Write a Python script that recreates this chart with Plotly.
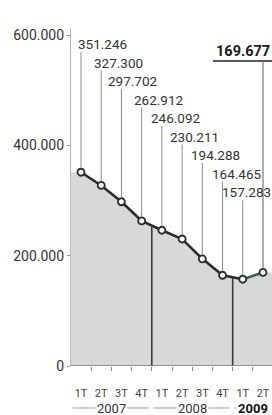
import plotly.graph_objects as go

# ---------------- data ----------------
quarters = ["1T", "2T", "3T", "4T", "1T", "2T", "3T", "4T", "1T", "2T"]
years = ["2007", "2008", "2009"]
year_quarters = [4, 4, 2]
values = [351246, 327300, 297702, 262912, 246092, 230211, 194288, 164465, 157283, 169677]
y_ticks = [0, 200000, 400000, 600000]
y_ticktext = ["0", "200.000", "400.000", "600.000"]

# ---------------- layout constants ----------------
W, H = 272, 415
L, R, T, B = 71, 0, 28, 49
X0, X1 = -0.495, 9.445
Y_TOP = 612700
FONT = "Roboto"
TXT = "#333333"
LINE = "#2b2b2b"
FILL = "#d8d8d8"

idx = list(range(len(values)))
plot_h = H - B - T
px_per_x = (W - L - R) / (X1 - X0)


def py_to_y(py):
    return (H - B - py) / plot_h * Y_TOP


def px_to_x(px):
    return (px - L) / px_per_x + X0


def fmt(v):
    return f"{v:,}".replace(",", ".")


fig = go.Figure()

# area under line (extended to plot edges)
fig.add_trace(go.Scatter(
    x=[X0] + idx + [X1], y=[values[0]] + values + [values[-1]],
    mode="lines", line=dict(width=0), fill="tozeroy", fillcolor=FILL,
    hoverinfo="skip", showlegend=False))

# main line
fig.add_trace(go.Scatter(
    x=idx[:-1], y=values[:-1], mode="lines",
    line=dict(color=LINE, width=2.6), showlegend=False))
fig.add_trace(go.Scatter(
    x=idx[-2:], y=values[-2:], mode="lines",
    line=dict(color="#3f6352", width=2.6), showlegend=False))
fig.add_trace(go.Scatter(
    x=idx, y=values, mode="markers",
    marker=dict(size=7, color="white", line=dict(color=LINE, width=1.8)),
    showlegend=False))

shapes = []
annotations = []

# year separators inside the area
start = 0
bounds = []
for n in year_quarters:
    bounds.append((start - 0.5, start + n - 0.5))
    start += n
for (a, b) in bounds[:-1]:
    i0 = int(b - 0.5)
    yv = (values[i0] + values[i0 + 1]) / 2
    shapes.append(dict(type="line", xref="x", yref="y", x0=b, x1=b, y0=0, y1=yv,
                       line=dict(color="#3a3a3a", width=1.6), layer="above"))

# value labels with leader lines
label_dx = [-5, -9, -15, -10, -13, -14, -13, -13, -23]
marker_gap = 4 * Y_TOP / plot_h
for k, v in enumerate(values[:-1]):
    py_c = 44 + 18.5 * k
    annotations.append(dict(
        x=k, y=py_to_y(py_c), xref="x", yref="y", text=fmt(v), showarrow=False,
        xanchor="left", yanchor="middle", xshift=label_dx[k],
        font=dict(family=FONT, size=13.5, color=TXT)))
    shapes.append(dict(type="line", xref="x", yref="y", x0=k, x1=k,
                       y0=v + marker_gap, y1=py_to_y(py_c + 8),
                       line=dict(color="#8a8a8a", width=1), layer="above"))

# highlighted last value
k = len(values) - 1
annotations.append(dict(
    x=k, y=py_to_y(51), xref="x", yref="y", text="<b>" + fmt(values[k]) + "</b>",
    showarrow=False, xanchor="left", yanchor="middle", xshift=-49,
    font=dict(family=FONT, size=14.5, color="#1a1a1a")))
shapes.append(dict(type="line", xref="x", yref="y", x0=px_to_x(213), x1=X1,
                   y0=py_to_y(61), y1=py_to_y(61),
                   line=dict(color="#222222", width=1.5), layer="above"))
shapes.append(dict(type="line", xref="x", yref="y", x0=k, x1=k,
                   y0=values[k] + marker_gap, y1=py_to_y(61),
                   line=dict(color="#777777", width=1.2), layer="above"))

# year labels with bracket lines
y_year = (H - B - 408) / plot_h
for (a, b), yr in zip(bounds, years):
    a2 = max(a, X0) + 0.08
    b2 = min(b, X1) - 0.15
    shapes.append(dict(type="line", xref="x", yref="paper", x0=a2, x1=b2,
                       y0=y_year, y1=y_year,
                       line=dict(color="#bdbdbd", width=1.5)))
    bold = yr == years[-1]
    annotations.append(dict(
        x=(max(a, X0) + min(b, X1 + 0.05)) / 2, y=y_year, xref="x", yref="paper",
        text=("<b>" + yr + "</b>") if bold else yr, showarrow=False,
        xanchor="center", yanchor="middle", bgcolor="white", borderpad=1,
        font=dict(family=FONT, size=13, color="#111111" if bold else TXT)))

fig.update_layout(
    width=W, height=H,
    margin=dict(l=L, r=R, t=T, b=B, pad=0),
    paper_bgcolor="white", plot_bgcolor="white",
    showlegend=False,
    shapes=shapes, annotations=annotations,
    xaxis=dict(
        range=[X0, X1], showgrid=False, zeroline=False,
        tickmode="array", tickvals=idx, ticktext=quarters, ticks="",
        ticklabelstandoff=19,
        tickfont=dict(family=FONT, size=11, color="#444444"),
        showline=False,
        minor=dict(tick0=0.5, dtick=1, ticks="outside", ticklen=4,
                   tickcolor="#888888", tickwidth=1),
    ),
    yaxis=dict(
        range=[0, Y_TOP], showgrid=False, zeroline=False,
        tickmode="array", tickvals=y_ticks, ticktext=y_ticktext,
        ticks="outside", ticklen=3, tickcolor="#999999",
        showline=True, linecolor="#b5b5b5", linewidth=1.2,
        tickfont=dict(family=FONT, size=14, color=TXT),
    ),
)

# baseline
fig.add_shape(type="line", xref="paper", yref="y", x0=0, x1=1, y0=0, y1=0,
              line=dict(color="#7a7a7a", width=1.5), layer="above")

fig.write_html(
    "out.html",
    config={"displayModeBar": False},
    post_script="document.body.style.margin='0';document.body.style.overflow='hidden';",
)
